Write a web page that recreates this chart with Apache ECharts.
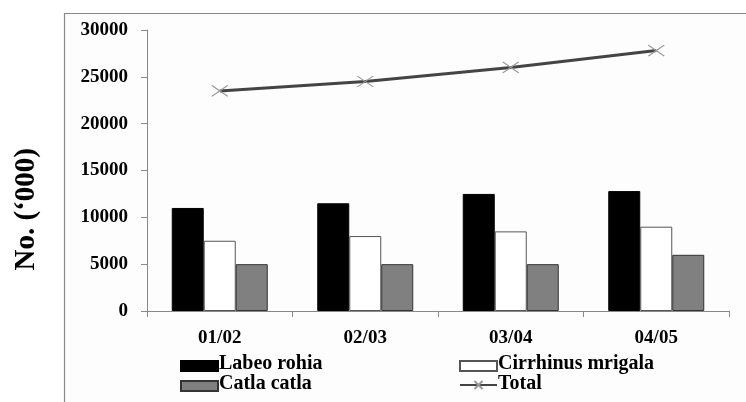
<!DOCTYPE html>
<html><head><meta charset="utf-8">
<script src="https://cdn.jsdelivr.net/npm/echarts@6/dist/echarts.min.js"></script>
<style>html,body{margin:0;padding:0;background:#fff;}#c{width:746px;height:402px;}</style>
</head><body><div id="c"></div>
<script>
const categories = ['01/02', '02/03', '03/04', '04/05'];
const seriesNames = ['Labeo rohia', 'Cirrhinus mrigala', 'Catla catla', 'Total'];
const labeoRohia = [11000, 11500, 12500, 12800];
const cirrhinusMrigala = [7500, 8000, 8500, 9000];
const catlaCatla = [5000, 5000, 5000, 6000];
const total = [23500, 24500, 26000, 27800];
const yTicks = { min: 0, max: 30000, interval: 5000 };

const FONT = 'Liberation Serif';
const chart = echarts.init(document.getElementById('c'), null, { renderer: 'canvas' });
const xMark = 'path://M0,0L16,11M16,0L0,11';
const legPos = [[180, 360], [459, 360], [180, 380], [459, 380]];
function leg(i) {
  const item = i < 3 ? { name: seriesNames[i], icon: 'rect' } : { name: seriesNames[i] };
  return { data: [item], left: legPos[i][0], top: legPos[i][1], itemWidth: 37, itemHeight: 10,
    formatter: function () { return ''; }, padding: 0, selectedMode: false };
}
function legText(i) {
  return { type: 'text', left: legPos[i][0] + 39, top: legPos[i][1] - 6,
    style: { text: seriesNames[i], font: 'bold 20px ' + FONT, fill: '#000' } };
}
chart.setOption({
  animation: false,
  backgroundColor: '#fff',
  graphic: [
    { type: 'rect', shape: { x: 64.5, y: 13.5, width: 700, height: 400 }, style: { fill: '#fdfdfd', stroke: '#888', lineWidth: 1.2 }, z: -10 },
    { type: 'text', left: 12, top: 148,
      rotation: Math.PI / 2,
      style: { text: 'No. (\u2018000)', font: 'bold 29px ' + FONT, fill: '#000' } },
    legText(0), legText(1), legText(2), legText(3)
  ],
  grid: { left: 147, right: 17, top: 30, bottom: 91, containLabel: false },
  legend: [leg(0), leg(1), leg(2), leg(3)],
  xAxis: {
    type: 'category', data: categories,
    axisLine: { lineStyle: { color: '#888', width: 1 } },
    axisTick: { show: true, length: 6, lineStyle: { color: '#888' } },
    axisLabel: { fontFamily: FONT, fontWeight: 'bold', fontSize: 19, color: '#000', margin: 18 }
  },
  yAxis: {
    type: 'value', min: yTicks.min, max: yTicks.max, interval: yTicks.interval,
    axisLine: { show: true, lineStyle: { color: '#888', width: 1 } },
    axisTick: { show: true, length: 6, lineStyle: { color: '#888' } },
    splitLine: { show: false },
    axisLabel: { fontFamily: FONT, fontWeight: 'bold', fontSize: 19, color: '#000', margin: 19,
      formatter: function (v) { return String(v); } }
  },
  series: [
    { name: seriesNames[0], type: 'bar', data: labeoRohia, barWidth: 32, barGap: '0%',
      itemStyle: { color: '#000', borderColor: '#000', borderWidth: 1 } },
    { name: seriesNames[1], type: 'bar', data: cirrhinusMrigala, barWidth: 32, barGap: '0%',
      itemStyle: { color: '#fff', borderColor: '#555', borderWidth: 1 } },
    { name: seriesNames[2], type: 'bar', data: catlaCatla, barWidth: 32, barGap: '0%',
      itemStyle: { color: '#808080', borderColor: '#333', borderWidth: 1 } },
    { name: seriesNames[3], type: 'line', data: total, symbol: xMark, symbolSize: [16, 11],
      lineStyle: { color: '#444', width: 3 },
      itemStyle: { color: '#999', borderColor: '#999', borderWidth: 1.2 } }
  ]
});
</script></body></html>
